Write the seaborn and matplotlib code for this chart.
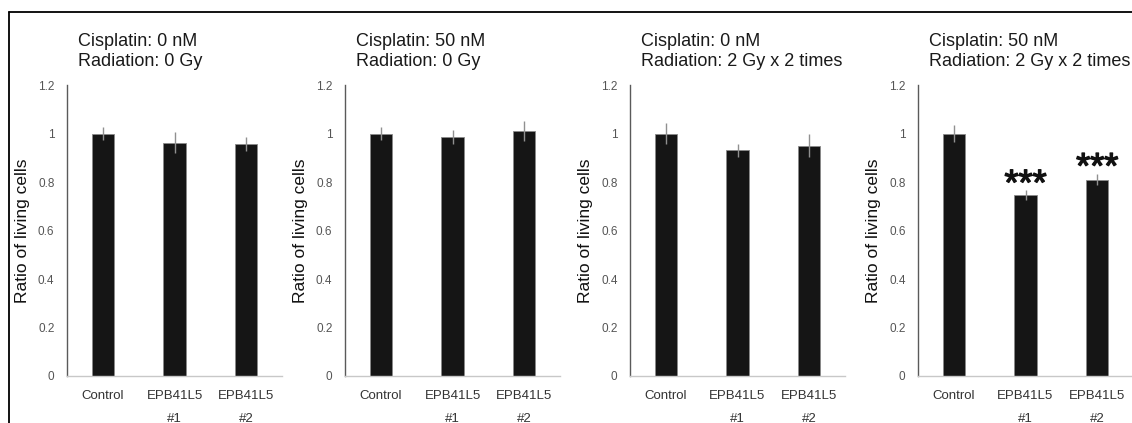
import matplotlib
matplotlib.use("Agg")
import matplotlib.pyplot as plt
import matplotlib.patheffects as pe
from matplotlib.lines import Line2D
from matplotlib.ticker import FixedLocator
import seaborn as sns
import pandas as pd

# Groups on the x axis
groups = ["Control", "EPB41L5\n#1", "EPB41L5\n#2"]

# Treatment conditions for each panel
conditions = [
    "Cisplatin: 0 nM\nRadiation: 0 Gy",
    "Cisplatin: 50 nM\nRadiation: 0 Gy",
    "Cisplatin: 0 nM\nRadiation: 2 Gy x 2 times",
    "Cisplatin: 50 nM\nRadiation: 2 Gy x 2 times",
]

# Mean ratio of living cells per panel
ratio_p1 = [1.00, 0.962, 0.958]
ratio_p2 = [1.00, 0.985, 1.010]
ratio_p3 = [1.00, 0.930, 0.950]
ratio_p4 = [1.00, 0.745, 0.810]

# Standard deviations per panel
sd_p1 = [0.027, 0.044, 0.029]
sd_p2 = [0.025, 0.030, 0.040]
sd_p3 = [0.045, 0.025, 0.048]
sd_p4 = [0.036, 0.020, 0.024]

# Significance marks per panel
sig_p1 = ["", "", ""]
sig_p2 = ["", "", ""]
sig_p3 = ["", "", ""]
sig_p4 = ["", "***", "***"]

y_ticks = [0, 0.2, 0.4, 0.6, 0.8, 1.0, 1.2]
y_tick_labels = ["0", "0.2", "0.4", "0.6", "0.8", "1", "1.2"]

sns.set_style("white")
plt.rcParams["font.family"] = ["Liberation Sans", "DejaVu Sans"]

W, H = 1132, 423
fig = plt.figure(figsize=(W / 100, H / 100), dpi=100)

panel_left = [67, 345, 630, 918]
ax_w, ax_bottom, ax_top = 215, 376, 85

panels = [
    (ratio_p1, sd_p1, sig_p1),
    (ratio_p2, sd_p2, sig_p2),
    (ratio_p3, sd_p3, sig_p3),
    (ratio_p4, sd_p4, sig_p4),
]

for left, cond, (vals, sds, sigs) in zip(panel_left, conditions, panels):
    ax = fig.add_axes([left / W, 1 - ax_bottom / H, ax_w / W, (ax_bottom - ax_top) / H])
    df = pd.DataFrame({"group": groups, "ratio": vals, "sd": sds})
    sns.barplot(data=df, x="group", y="ratio", ax=ax, color="#151515",
                width=0.315, edgecolor="#8a8a8a", linewidth=0.6,
                errorbar=None, saturation=1)
    ax.errorbar(range(len(groups)), df["ratio"], yerr=df["sd"], fmt="none",
                ecolor="#909090", elinewidth=1.0, capsize=0)
    for i, (v, s, mark) in enumerate(zip(vals, sds, sigs)):
        if mark:
            ax.text(i, v + s - 0.05, mark, ha="center", va="bottom",
                    fontsize=26, color="#111111",
                    path_effects=[pe.withStroke(linewidth=1.0, foreground="#111111")])

    ax.set_xlim(-0.5, 2.5)
    ax.set_ylim(0, 1.2)
    ax.set_yticks(y_ticks)
    ax.set_yticklabels(y_tick_labels)
    ax.tick_params(axis="y", length=0, pad=9, labelsize=8.5, labelcolor="#555555")
    ax.tick_params(axis="x", which="major", length=0, pad=10, labelsize=9.5,
                   labelcolor="#333333")
    for lab in ax.get_xticklabels():
        lab.set_linespacing(2.2)
        lab.set_verticalalignment("top")
    ax.xaxis.set_minor_locator(FixedLocator([0.5, 1.5, 2.5]))
    ax.tick_params(axis="x", which="minor", length=4, width=0.8,
                   color="#c8c8c8", direction="out")
    ax.set_xlabel("")
    ax.set_ylabel("Ratio of living cells", fontsize=12.5, color="#111111")
    ax.yaxis.set_label_coords(-37 / ax_w, 0.5)

    for side in ("top", "right"):
        ax.spines[side].set_visible(False)
    ax.spines["left"].set_color("#5a5a5a")
    ax.spines["left"].set_linewidth(1.0)
    ax.spines["bottom"].set_color("#c8c8c8")
    ax.spines["bottom"].set_linewidth(1.0)

    ax.text(0.05, 1.052, cond, transform=ax.transAxes, ha="left", va="bottom",
            fontsize=13, linespacing=1.2, color="#1a1a1a")

# Outer frame around the figure panels
fx, fy = 9 / W, 1 - 12 / H
fig.add_artist(Line2D([fx, 1], [fy, fy], color="black", linewidth=1.3,
                      transform=fig.transFigure))
fig.add_artist(Line2D([fx, fx], [0, fy], color="black", linewidth=1.3,
                      transform=fig.transFigure))

fig.savefig("out.png", dpi=100)
